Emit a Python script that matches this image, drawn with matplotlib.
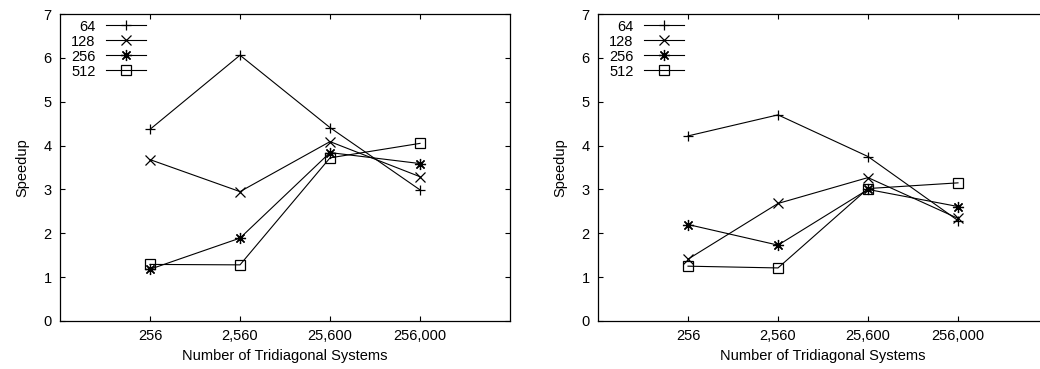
import matplotlib
matplotlib.use('Agg')
import matplotlib.pyplot as plt

plt.rcParams['font.family'] = ['Liberation Sans', 'DejaVu Sans']

sizes = ['256', '2,560', '25,600', '256,000']
labels = ['64', '128', '256', '512']

# left panel speedups
left_64 = [4.37, 6.06, 4.41, 2.99]
left_128 = [3.68, 2.95, 4.09, 3.29]
left_256 = [1.18, 1.89, 3.84, 3.59]
left_512 = [1.29, 1.28, 3.72, 4.05]

# right panel speedups
right_64 = [4.22, 4.70, 3.75, 2.29]
right_128 = [1.41, 2.68, 3.27, 2.34]
right_256 = [2.20, 1.73, 3.00, 2.61]
right_512 = [1.25, 1.21, 3.02, 3.15]

markers = ['+', 'x', (8, 2, 0), 's']
msizes = [7, 6.5, 8, 7]


def draw(ax, series):
    x = list(range(1, len(sizes) + 1))
    for ys, lab, m, ms in zip(series, labels, markers, msizes):
        ax.plot(x, ys, color='black', lw=0.8, marker=m, ms=ms,
                mfc='none', mec='black', mew=0.9, label=lab)
    ax.set_xlim(0, 5)
    ax.set_ylim(0, 7)
    ax.set_xticks(x)
    ax.set_xticklabels(sizes)
    ax.set_yticks(range(0, 8))
    ax.tick_params(direction='in', top=True, right=True, length=3.5,
                   width=0.8, labelsize=10.5, pad=6)
    for s in ax.spines.values():
        s.set_linewidth(0.9)
    ax.set_xlabel('Number of Tridiagonal Systems', fontsize=10.5, labelpad=4)
    ax.set_ylabel('Speedup', fontsize=10.5, labelpad=10)
    # gnuplot-style key: labels right aligned, sample after the text
    ax.legend(loc='upper right', markerfirst=False, frameon=False,
              fontsize=10.5, handlelength=2.75, handletextpad=0.7,
              labelspacing=0.07, borderaxespad=0, borderpad=0,
              bbox_to_anchor=(86 / 450, 0.982))


fig = plt.figure(figsize=(10.4, 3.69), dpi=100)
ax1 = fig.add_axes([60 / 1040, 48 / 369, 450 / 1040, 307 / 369])
ax2 = fig.add_axes([598 / 1040, 48 / 369, 450 / 1040, 307 / 369])
draw(ax1, [left_64, left_128, left_256, left_512])
draw(ax2, [right_64, right_128, right_256, right_512])

fig.savefig('out.png', dpi=100)
